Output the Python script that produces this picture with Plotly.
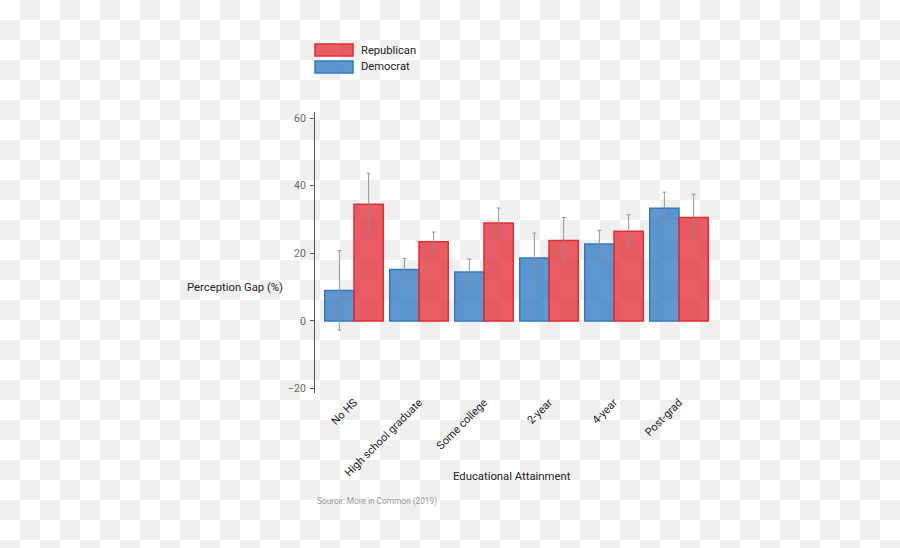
import plotly.graph_objects as go

categories = ["No HS", "High school graduate", "Some college", "2-year", "4-year", "Post-grad"]
dem_values = [9.0, 15.2, 14.5, 18.6, 22.8, 33.3]
dem_err_hi = [20.8, 18.5, 18.3, 26.0, 26.8, 38.1]
dem_err_lo = [-2.7, 12.0, 10.9, 11.5, 19.0, 28.9]
rep_values = [34.5, 23.4, 29.0, 23.8, 26.5, 30.6]
rep_err_hi = [43.7, 26.3, 33.4, 30.6, 31.4, 37.5]
rep_err_lo = [25.6, 21.0, 24.5, 17.3, 22.1, 24.0]
y_ticks = [-20, 0, 20, 40, 60]

FONT = "Roboto, Lato, sans-serif"

DEM_FILL, DEM_LINE = "rgba(55,126,196,0.8)", "rgb(50,120,195)"
REP_FILL, REP_LINE = "rgba(226,49,56,0.78)", "rgb(228,45,50)"

# plot area in pixels
L, R, T, B = 315, 188, 112, 155
W, H = 900, 548
pw, ph = W - L - R, H - T - B

def px(x):
    return (x - L) / pw

def py(y):
    return (H - B - y) / ph

def err(vals, hi, lo):
    return dict(type="data", symmetric=False,
                array=[h - v for v, h in zip(vals, hi)],
                arrayminus=[v - l for v, l in zip(vals, lo)],
                color="rgba(140,140,140,0.9)", thickness=1, width=2)

fig = go.Figure()
fig.add_trace(go.Bar(
    name="Democrat", x=categories, y=dem_values,
    marker=dict(color=DEM_FILL, line=dict(color=DEM_LINE, width=1.5)),
    error_y=err(dem_values, dem_err_hi, dem_err_lo),
))
fig.add_trace(go.Bar(
    name="Republican", x=categories, y=rep_values,
    marker=dict(color=REP_FILL, line=dict(color=REP_LINE, width=1.5)),
    error_y=err(rep_values, rep_err_hi, rep_err_lo),
))

legend_items = [("Republican", REP_FILL, REP_LINE, 44), ("Democrat", DEM_FILL, DEM_LINE, 61)]
shapes = []
annotations = []
for name, fill, line, top in legend_items:
    shapes.append(dict(type="rect", xref="paper", yref="paper",
                       x0=px(315), x1=px(353), y0=py(top + 12), y1=py(top),
                       fillcolor=fill, line=dict(color=line, width=1.5)))
    annotations.append(dict(text=name, xref="paper", yref="paper", x=px(359), y=py(top + 6),
                            xanchor="left", yanchor="middle", showarrow=False,
                            font=dict(size=11.2, color="#222")))

annotations += [
    dict(text="Perception Gap (%)", xref="paper", yref="paper",
         x=px(285), y=py(287), xanchor="right", yanchor="middle",
         showarrow=False, font=dict(size=11.3, color="#222")),
    dict(text="Educational Attainment", xref="paper", yref="paper",
         x=px(512), y=py(476), xanchor="center", yanchor="middle",
         showarrow=False, font=dict(size=11.3, color="#222")),
    dict(text="Source: More in Common (2019)", xref="paper", yref="paper",
         x=0, y=py(501), xanchor="left", yanchor="middle",
         showarrow=False, font=dict(size=8.3, color="#999")),
]

fig.update_layout(
    width=W, height=H,
    margin=dict(l=L, r=R, t=T, b=B, pad=0),
    paper_bgcolor="rgba(0,0,0,0)", plot_bgcolor="rgba(0,0,0,0)",
    barmode="group", bargap=0.1, bargroupgap=0.0,
    showlegend=False,
    font=dict(family=FONT, color="#222", size=12),
    xaxis=dict(range=[-0.6, -0.6 + pw / 65], showline=False, showgrid=False, zeroline=False,
               tickangle=-45, ticks="", tickfont=dict(size=11, color="#222")),
    yaxis=dict(range=[-21.3, 61.8], tickvals=y_ticks, showline=True, linecolor="#555", linewidth=1,
               ticks="outside", ticklen=4, tickcolor="#555", showgrid=False, zeroline=False,
               tickfont=dict(size=10.5, color="#666"), ticklabelstandoff=2),
    shapes=shapes,
    annotations=annotations,
)

checker_js = (
    "var bg='conic-gradient(#efefef 0 25%, #ffffff 0 50%, #efefef 0 75%, #ffffff 0)';"
    "[document.documentElement, document.body].forEach(function(e){"
    "e.style.margin='0';e.style.padding='0';"
    "e.style.backgroundImage=bg;e.style.backgroundSize='40px 40px';"
    "e.style.backgroundPosition='0 0';});"
)

fig.write_html("out.html", config={"displayModeBar": False}, post_script=checker_js)
